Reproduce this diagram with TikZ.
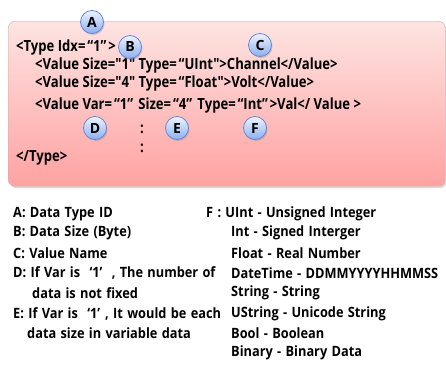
\documentclass[tikz,border=0pt]{standalone}
\usepackage{fontspec}
\setmainfont{Open Sans}
\newfontfamily\codefont[FakeStretch=0.85]{Open Sans}
\newfontfamily\legfont[FakeStretch=0.9, WordSpace=1.3]{Open Sans}
\usetikzlibrary{shadows}
\definecolor{boxtop}{RGB}{253,228,226}
\definecolor{boxbottom}{RGB}{255,162,162}
\definecolor{boxedge}{RGB}{215,165,165}
\definecolor{tagtop}{RGB}{238,244,255}
\definecolor{tagbottom}{RGB}{140,175,240}
\definecolor{tagedge}{RGB}{105,135,215}
% wide quotes as in the reference font
\newcommand\oq{\makebox[0.5em][r]{“}}
\newcommand\cq{\makebox[0.5em][l]{”}}
\newcommand\osq{\makebox[0.55em][r]{‘}}
\newcommand\csq{\makebox[0.55em][l]{’}}

\begin{document}
\begin{tikzpicture}[x=1pt, y=-1pt,
    codeline/.style={anchor=west, inner sep=0pt, font=\codefont\fontsize{15.4}{17}\selectfont\bfseries},
    legend/.style={anchor=west, inner sep=0pt, font=\legfont\fontsize{14.2}{16}\selectfont\bfseries},
    tag/.style={circle, minimum size=23pt, inner sep=0pt, draw=tagedge, thick,
        top color=tagtop, bottom color=tagbottom,
        drop shadow={opacity=0.35, shadow xshift=1pt, shadow yshift=-1.5pt},
        font=\fontsize{14}{16}\selectfont\bfseries}
]
    \useasboundingbox (0,0) rectangle (446,364);
    % code box
    \node (codebox) [draw=boxedge, rounded corners=7pt, top color=boxtop, bottom color=boxbottom,
        minimum width=437pt, minimum height=165pt, anchor=north west,
        drop shadow={opacity=0.3, shadow xshift=1.5pt, shadow yshift=-2pt}] at (8,21) {};

    \node (type_open) [codeline] at (16,47) {<Type Idx=\oq1\cq>};
    \node (value_channel) [codeline] at (35,65) {<Value Size="1" Type=\oq UInt">Channel</Value>};
    \node (value_volt) [codeline] at (35,83) {<Value Size="4" Type=\oq Float">Volt</Value>};
    \node (value_val) [codeline] at (35,105) {<Value Var=\oq1\cq\ Size=\oq4\cq{} Type=\oq Int\cq>Val</ Value >};
    \node (dots_top) [codeline] at (140,129) {:};
    \node (dots_bottom) [codeline] at (140,148) {:};
    \node (type_close) [codeline] at (16,158) {</Type>};

    \node (tag_a) [tag] at (92,22) {A};
    \node (tag_b) [tag] at (130,47) {B};
    \node (tag_c) [tag] at (260,45) {C};
    \node (tag_d) [tag] at (95,128) {D};
    \node (tag_e) [tag] at (177,128) {E};
    \node (tag_f) [tag] at (255,128) {F};

    % legend, left column
    \node (leg_a) [legend] at (13,214) {A: Data Type ID};
    \node (leg_b) [legend] at (13,233) {B: Data Size (Byte)};
    \node (leg_c) [legend] at (13,253) {C: Value Name};
    \node (leg_d) [legend] at (13,273) {D: If Var is \osq1\csq\ , The number of};
    \node (leg_d2) [legend] at (32,293) {data is not fixed};
    \node (leg_e) [legend] at (13,314) {E: If Var is \osq1\csq, It would be each};
    \node (leg_e2) [legend] at (27,333) {data size in variable data};

    % legend, right column
    \node (leg_f) [legend] at (206,214) {F : UInt - Unsigned Integer};
    \node (leg_int) [legend] at (231,233) {Int - Signed Interger};
    \node (leg_float) [legend] at (231,253) {Float - Real Number};
    \node (leg_datetime) [legend] at (231,273) {DateTime - DDMMYYYYHHMMSS};
    \node (leg_string) [legend] at (231,293) {String - String};
    \node (leg_ustring) [legend] at (231,314) {UString - Unicode String};
    \node (leg_bool) [legend] at (231,333) {Bool - Boolean};
    \node (leg_binary) [legend] at (231,353) {Binary - Binary Data};
\end{tikzpicture}
\end{document}
